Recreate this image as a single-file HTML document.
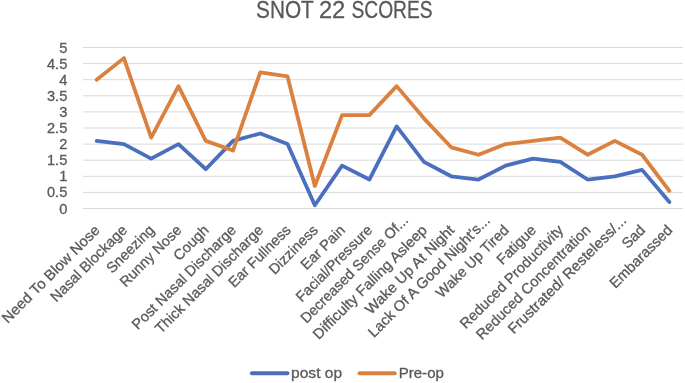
<!DOCTYPE html>
<html><head><meta charset="utf-8"><style>
html,body{margin:0;padding:0;background:#fff;}
svg{display:block;font-family:"Liberation Sans", sans-serif;will-change:transform;}
text{fill:#595959;stroke:#595959;stroke-width:0.3;}
</style></head><body>
<svg width="685" height="383" viewBox="0 0 685 383">
<rect width="685" height="383" fill="#fff"/>
<g>

<text x="256.06" y="17.5" font-size="23.8" textLength="57.7" lengthAdjust="spacingAndGlyphs">SNOT</text>
<text x="318.9" y="17.5" font-size="23.8" textLength="26.47" lengthAdjust="spacingAndGlyphs">22</text>
<text x="351.5" y="17.5" font-size="23.8" textLength="81.1" lengthAdjust="spacingAndGlyphs">SCORES</text>
<line x1="83.0" y1="208.50" x2="683.0" y2="208.50" stroke="#d9d9d9" stroke-width="1"/>
<line x1="83.0" y1="192.40" x2="683.0" y2="192.40" stroke="#d9d9d9" stroke-width="1"/>
<line x1="83.0" y1="176.30" x2="683.0" y2="176.30" stroke="#d9d9d9" stroke-width="1"/>
<line x1="83.0" y1="160.20" x2="683.0" y2="160.20" stroke="#d9d9d9" stroke-width="1"/>
<line x1="83.0" y1="144.10" x2="683.0" y2="144.10" stroke="#d9d9d9" stroke-width="1"/>
<line x1="83.0" y1="128.00" x2="683.0" y2="128.00" stroke="#d9d9d9" stroke-width="1"/>
<line x1="83.0" y1="111.90" x2="683.0" y2="111.90" stroke="#d9d9d9" stroke-width="1"/>
<line x1="83.0" y1="95.80" x2="683.0" y2="95.80" stroke="#d9d9d9" stroke-width="1"/>
<line x1="83.0" y1="79.70" x2="683.0" y2="79.70" stroke="#d9d9d9" stroke-width="1"/>
<line x1="83.0" y1="63.60" x2="683.0" y2="63.60" stroke="#d9d9d9" stroke-width="1"/>
<line x1="83.0" y1="47.50" x2="683.0" y2="47.50" stroke="#d9d9d9" stroke-width="1"/>
<text x="67.3" y="213.50" font-size="14.6" fill="#595959" text-anchor="end">0</text>
<text x="67.3" y="197.40" font-size="14.6" fill="#595959" text-anchor="end">0.5</text>
<text x="67.3" y="181.30" font-size="14.6" fill="#595959" text-anchor="end">1</text>
<text x="67.3" y="165.20" font-size="14.6" fill="#595959" text-anchor="end">1.5</text>
<text x="67.3" y="149.10" font-size="14.6" fill="#595959" text-anchor="end">2</text>
<text x="67.3" y="133.00" font-size="14.6" fill="#595959" text-anchor="end">2.5</text>
<text x="67.3" y="116.90" font-size="14.6" fill="#595959" text-anchor="end">3</text>
<text x="67.3" y="100.80" font-size="14.6" fill="#595959" text-anchor="end">3.5</text>
<text x="67.3" y="84.70" font-size="14.6" fill="#595959" text-anchor="end">4</text>
<text x="67.3" y="68.60" font-size="14.6" fill="#595959" text-anchor="end">4.5</text>
<text x="67.3" y="52.50" font-size="14.6" fill="#595959" text-anchor="end">5</text>
<polyline points="96.64,140.88 123.91,144.10 151.18,158.59 178.45,144.10 205.73,169.22 233.00,140.88 260.27,133.47 287.55,144.10 314.82,205.28 342.09,165.67 369.36,179.52 396.64,126.39 423.91,161.81 451.18,176.30 478.45,179.52 505.73,165.67 533.00,158.59 560.27,161.81 587.55,179.52 614.82,176.30 642.09,169.86 669.36,202.06" fill="none" stroke="#4a6fbe" stroke-width="3.8" stroke-linejoin="round" stroke-linecap="round"/>
<polyline points="96.64,79.70 123.91,58.13 151.18,137.66 178.45,86.14 205.73,140.88 233.00,150.54 260.27,72.29 287.55,76.48 314.82,185.96 342.09,115.12 369.36,115.12 396.64,86.14 423.91,118.34 451.18,147.32 478.45,154.73 505.73,144.10 533.00,140.88 560.27,137.66 587.55,154.73 614.82,140.88 642.09,154.73 669.36,190.79" fill="none" stroke="#db813f" stroke-width="3.8" stroke-linejoin="round" stroke-linecap="round"/>
<text transform="translate(100.64,231.0) rotate(-45)" x="0" y="0" font-size="14.6" fill="#595959" text-anchor="end" textLength="131.4" lengthAdjust="spacingAndGlyphs">Need To Blow Nose</text>
<text transform="translate(127.91,231.0) rotate(-45)" x="0" y="0" font-size="14.6" fill="#595959" text-anchor="end">Nasal Blockage</text>
<text transform="translate(155.18,231.0) rotate(-45)" x="0" y="0" font-size="14.6" fill="#595959" text-anchor="end">Sneezing</text>
<text transform="translate(182.45,231.0) rotate(-45)" x="0" y="0" font-size="14.6" fill="#595959" text-anchor="end">Runny Nose</text>
<text transform="translate(209.73,231.0) rotate(-45)" x="0" y="0" font-size="14.6" fill="#595959" text-anchor="end">Cough</text>
<text transform="translate(237.00,231.0) rotate(-45)" x="0" y="0" font-size="14.6" fill="#595959" text-anchor="end">Post Nasal Discharge</text>
<text transform="translate(264.27,231.0) rotate(-45)" x="0" y="0" font-size="14.6" fill="#595959" text-anchor="end">Thick Nasal Discharge</text>
<text transform="translate(291.55,231.0) rotate(-45)" x="0" y="0" font-size="14.6" fill="#595959" text-anchor="end">Ear Fullness</text>
<text transform="translate(318.82,231.0) rotate(-45)" x="0" y="0" font-size="14.6" fill="#595959" text-anchor="end">Dizziness</text>
<text transform="translate(346.09,231.0) rotate(-45)" x="0" y="0" font-size="14.6" fill="#595959" text-anchor="end">Ear Pain</text>
<text transform="translate(373.36,231.0) rotate(-45)" x="0" y="0" font-size="14.6" fill="#595959" text-anchor="end">Facial/Pressure</text>
<text transform="translate(409.04,221.3) rotate(-45)" x="0" y="0" font-size="14.6" fill="#595959" text-anchor="end" textLength="145.2" lengthAdjust="spacingAndGlyphs">Decreased Sense Of...</text>
<text transform="translate(427.91,231.0) rotate(-45)" x="0" y="0" font-size="14.6" fill="#595959" text-anchor="end" textLength="154.4" lengthAdjust="spacingAndGlyphs">Difficulty Falling Asleep</text>
<text transform="translate(455.18,231.0) rotate(-45)" x="0" y="0" font-size="14.6" fill="#595959" text-anchor="end" textLength="119.2" lengthAdjust="spacingAndGlyphs">Wake Up At Night</text>
<text transform="translate(490.85,221.3) rotate(-45)" x="0" y="0" font-size="14.6" fill="#595959" text-anchor="end" textLength="165.4" lengthAdjust="spacingAndGlyphs">Lack Of A Good Night&#39;s...</text>
<text transform="translate(509.73,231.0) rotate(-45)" x="0" y="0" font-size="14.6" fill="#595959" text-anchor="end">Wake Up Tired</text>
<text transform="translate(537.00,231.0) rotate(-45)" x="0" y="0" font-size="14.6" fill="#595959" text-anchor="end">Fatigue</text>
<text transform="translate(564.27,231.0) rotate(-45)" x="0" y="0" font-size="14.6" fill="#595959" text-anchor="end" textLength="139.4" lengthAdjust="spacingAndGlyphs">Reduced Productivity</text>
<text transform="translate(591.55,231.0) rotate(-45)" x="0" y="0" font-size="14.6" fill="#595959" text-anchor="end" textLength="154.8" lengthAdjust="spacingAndGlyphs">Reduced Concentration</text>
<text transform="translate(627.22,221.3) rotate(-45)" x="0" y="0" font-size="14.6" fill="#595959" text-anchor="end" textLength="160.5" lengthAdjust="spacingAndGlyphs">Frustrated/ Resteless/...</text>
<text transform="translate(646.09,231.0) rotate(-45)" x="0" y="0" font-size="14.6" fill="#595959" text-anchor="end">Sad</text>
<text transform="translate(673.36,231.0) rotate(-45)" x="0" y="0" font-size="14.6" fill="#595959" text-anchor="end">Embarassed</text>
<line x1="251.9" y1="373.2" x2="287.5" y2="373.2" stroke="#4a6fbe" stroke-width="3.9" stroke-linecap="round"/>
<text x="291.1" y="378" font-size="14.6" fill="#595959" textLength="50.95" lengthAdjust="spacingAndGlyphs">post op</text>
<line x1="359.5" y1="373.2" x2="394.8" y2="373.2" stroke="#db813f" stroke-width="3.9" stroke-linecap="round"/>
<text x="398.7" y="378" font-size="14.6" fill="#595959" textLength="45.2" lengthAdjust="spacingAndGlyphs">Pre-op</text>
</g></svg></body></html>
